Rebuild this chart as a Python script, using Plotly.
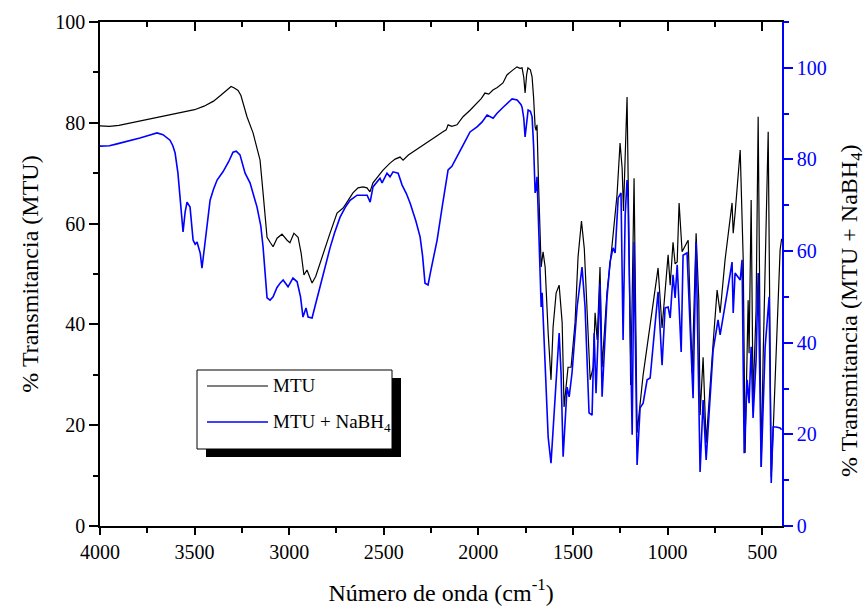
import plotly.graph_objects as go

# ---------------- data ----------------
wn_mtu = [4000, 3950, 3900, 3850, 3800, 3750, 3700, 3650, 3600, 3550, 3500, 3450, 3400, 3360, 3330,
          3307, 3290, 3270, 3255, 3240, 3223, 3191, 3170, 3154, 3138, 3117, 3101, 3085, 3064, 3038,
          3011, 2996, 2975, 2953, 2937, 2922, 2906, 2879, 2860, 2837, 2800, 2784, 2747, 2715, 2690,
          2663, 2636, 2610, 2589, 2573, 2557, 2530, 2504, 2467, 2440, 2414, 2398, 2370, 2324, 2290,
          2256, 2220, 2187, 2170, 2160, 2140, 2113, 2081, 2044, 2020, 2007, 1985, 1965, 1945, 1923,
          1900, 1870, 1849, 1820, 1796, 1780, 1769, 1760, 1753, 1745, 1738, 1725, 1716, 1708, 1700,
          1695, 1690, 1682, 1674, 1668, 1658, 1647, 1631, 1616, 1605, 1589, 1573, 1557, 1547, 1531,
          1526, 1510, 1489, 1473, 1455, 1440, 1425, 1409, 1393, 1383, 1372, 1357, 1346, 1320, 1293,
          1277, 1267, 1251, 1240, 1233, 1214, 1205, 1195, 1187, 1177, 1161, 1145, 1129, 1092, 1050,
          1029, 1013, 997, 986, 971, 960, 949, 939, 923, 897, 891, 870, 849, 835, 828,
          812, 796, 759, 738, 722, 696, 659, 653, 643, 616, 600, 590, 574, 569, 558,
          548, 532, 521, 505, 495, 468, 452, 442, 405, 397]
t_mtu = [79.4, 79.3, 79.5, 79.9, 80.3, 80.7, 81.1, 81.5, 81.9, 82.2, 82.6, 83.3, 84.3, 85.5, 86.5,
         87.2, 86.9, 86.4, 85.4, 83.5, 81.2, 78.0, 75.0, 72.6, 66.1, 57.3, 56.3, 55.4, 57.1, 57.9,
         56.7, 56.2, 58.1, 57.3, 54.2, 49.8, 50.8, 48.2, 49.5, 52.2, 56.2, 58.1, 62.1, 63.1, 64.5,
         66.1, 67.1, 67.3, 67.1, 66.3, 68.1, 69.3, 70.6, 72.0, 72.8, 73.2, 72.6, 73.6, 74.8, 75.7,
         76.6, 77.4, 78.2, 78.6, 79.6, 79.3, 79.6, 81.2, 82.5, 83.4, 84.1, 84.8, 85.9, 85.7, 86.5,
         87.0, 87.9, 89.5, 90.4, 91.1, 90.8, 90.9, 89.0, 85.9, 89.5, 90.9, 90.5, 89.1, 85.0, 79.2,
         78.5, 79.6, 68.0, 55.4, 51.4, 54.4, 51.4, 38.3, 29.0, 39.5, 46.2, 47.8, 40.3, 23.6, 30.4,
         31.5, 31.5, 40.3, 53.4, 60.5, 55.0, 43.5, 29.0, 31.5, 42.3, 36.9, 51.4, 31.5, 46.4, 55.8,
         62.3, 65.7, 76.0, 71.0, 62.5, 85.1, 60.0, 28.0, 45.0, 69.0, 18.5, 24.0, 30.0, 39.9, 51.2,
         39.3, 47.0, 53.8, 47.8, 56.3, 52.0, 52.4, 64.1, 54.4, 56.3, 56.7, 30.4, 58.1, 45.0, 22.0,
         33.5, 16.5, 36.3, 46.8, 42.3, 52.8, 64.1, 58.1, 62.0, 74.6, 52.8, 14.5, 44.8, 34.3, 64.7,
         25.0, 42.9, 81.2, 11.7, 32.9, 78.2, 9.7, 18.5, 54.8, 57.0]

wn_nabh4 = [4000, 3950, 3910, 3850, 3789, 3740, 3699, 3667, 3645, 3630, 3615, 3603, 3588, 3572, 3561,
            3550, 3540, 3524, 3508, 3497, 3487, 3470, 3461, 3445, 3430, 3418, 3400, 3381, 3350, 3320,
            3297, 3280, 3260, 3245, 3233, 3207, 3170, 3150, 3138, 3117, 3101, 3085, 3065, 3048, 3032,
            3006, 2980, 2958, 2940, 2927, 2911, 2900, 2879, 2860, 2837, 2810, 2784, 2760, 2731, 2700,
            2678, 2641, 2588, 2572, 2557, 2520, 2509, 2483, 2467, 2451, 2424, 2403, 2380, 2361, 2330,
            2308, 2295, 2282, 2266, 2250, 2218, 2190, 2160, 2140, 2113, 2080, 2044, 2007, 1980, 1954,
            1922, 1901, 1869, 1845, 1822, 1795, 1775, 1769, 1760, 1753, 1745, 1737, 1725, 1716, 1708,
            1700, 1695, 1690, 1685, 1679, 1668, 1663, 1647, 1631, 1616, 1605, 1584, 1573, 1563, 1552,
            1531, 1520, 1505, 1478, 1452, 1436, 1415, 1399, 1388, 1378, 1357, 1346, 1320, 1304, 1288,
            1277, 1261, 1246, 1235, 1224, 1214, 1209, 1187, 1177, 1161, 1145, 1129, 1108, 1092, 1050,
            1029, 1013, 997, 986, 971, 960, 949, 928, 918, 897, 865, 849, 828, 812, 796,
            759, 733, 722, 685, 659, 653, 643, 616, 606, 595, 579, 569, 558, 548, 532,
            521, 505, 484, 463, 452, 442, 426, 405, 397]
t_nabh4 = [82.9, 83.0, 83.4, 84.0, 84.7, 85.3, 85.8, 85.4, 84.8, 84.2, 83.0, 81.4, 77.0, 69.0, 64.2,
           68.5, 70.7, 69.6, 62.4, 61.5, 62.0, 59.5, 56.3, 61.8, 67.0, 71.1, 73.5, 75.5, 77.3, 79.5,
           81.6, 81.8, 81.0, 79.0, 77.0, 74.9, 69.6, 65.5, 60.9, 49.8, 49.3, 50.0, 52.0, 53.0, 53.7,
           52.2, 54.1, 53.3, 50.0, 45.6, 47.6, 45.6, 45.4, 48.5, 52.2, 57.0, 60.7, 64.0, 67.4, 69.8,
           71.1, 72.2, 72.2, 70.7, 74.0, 75.9, 74.9, 77.0, 76.2, 77.3, 77.0, 74.4, 72.5, 70.5, 66.5,
           63.1, 59.0, 53.0, 52.6, 56.0, 62.4, 70.0, 77.7, 78.5, 80.5, 83.2, 86.0, 87.1, 88.2, 89.7,
           89.0, 90.1, 91.4, 92.3, 93.2, 93.0, 92.0, 91.4, 89.0, 84.9, 88.0, 90.8, 90.5, 89.3, 83.0,
           72.7, 73.5, 76.2, 70.0, 62.4, 47.8, 50.9, 33.4, 19.4, 13.7, 21.0, 34.7, 42.1, 33.4, 15.1,
           30.3, 28.2, 33.4, 47.8, 56.5, 47.8, 24.7, 24.2, 42.1, 29.0, 53.0, 28.2, 49.8, 57.6, 60.7,
           59.6, 71.6, 72.7, 40.6, 67.9, 75.5, 71.6, 19.9, 62.0, 13.3, 25.8, 26.8, 31.9, 32.3, 51.1,
           35.1, 47.6, 47.8, 45.4, 54.8, 49.8, 57.0, 38.0, 59.1, 59.6, 27.9, 62.0, 11.8, 27.5, 14.4,
           38.4, 45.0, 41.7, 50.9, 57.6, 46.5, 55.2, 53.7, 58.1, 15.9, 31.9, 26.8, 39.1, 23.6, 36.2,
           55.2, 12.9, 39.1, 50.0, 9.4, 21.6, 21.6, 21.4, 21.0]

x_ticks = [4000, 3500, 3000, 2500, 2000, 1500, 1000, 500]
y_left_ticks = [0, 20, 40, 60, 80, 100]
y_right_ticks = [0, 20, 40, 60, 80, 100]
series_names = ["MTU", "MTU + NaBH<sub>4</sub>"]

# ---------------- figure ----------------
FONT = "Liberation Serif, Times New Roman, serif"
BLUE = "#0000FF"
XR = [4000, 395]

fig = go.Figure()
fig.add_trace(go.Scatter(x=wn_mtu, y=t_mtu, mode="lines", name=series_names[0],
                         line=dict(color="black", width=1.2), yaxis="y", showlegend=False))
fig.add_trace(go.Scatter(x=wn_nabh4, y=t_nabh4, mode="lines", name=series_names[1],
                         line=dict(color=BLUE, width=1.6), yaxis="y2", showlegend=False))
# empty trace to bind the top mirror axis
fig.add_trace(go.Scatter(x=[], y=[], xaxis="x2", yaxis="y", showlegend=False, hoverinfo="skip"))

tickfont = dict(family=FONT, size=20, color="black")
fig.update_layout(
    width=867, height=608,
    margin=dict(l=100, r=85, t=22, b=82),
    paper_bgcolor="white", plot_bgcolor="white",
    font=dict(family=FONT, color="black"),
    xaxis=dict(range=XR, tickvals=x_ticks, ticks="outside", ticklen=7, tickwidth=1.5,
               tickcolor="black", showline=True, linecolor="black", linewidth=1.5,
               showgrid=False, zeroline=False, tickfont=tickfont,
               minor=dict(dtick=250, tick0=0, ticks="outside", ticklen=5, tickwidth=1.5,
                          tickcolor="black", showgrid=False),
               title=dict(text="Número de onda (cm<sup>-1</sup>)",
                          font=dict(family=FONT, size=24, color="black"), standoff=22),
               automargin=False),
    xaxis2=dict(range=XR, overlaying="x", side="top", anchor="y", tickvals=x_ticks,
                ticks="inside", ticklen=9, tickwidth=1.5, tickcolor="black",
                showline=True, linecolor="black", linewidth=1.5, showticklabels=False,
                showgrid=False, zeroline=False,
                minor=dict(dtick=250, tick0=0, ticks="inside", ticklen=5, tickwidth=1.5,
                           tickcolor="black", showgrid=False),
                automargin=False),
    yaxis=dict(range=[0, 100], tickvals=y_left_ticks, ticks="outside", ticklen=9, tickwidth=1.5,
               tickcolor="black", showline=True, linecolor="black", linewidth=1.5,
               showgrid=False, zeroline=False, tickfont=tickfont,
               minor=dict(dtick=10, tick0=0, ticks="outside", ticklen=5, tickwidth=1.5,
                          tickcolor="black", showgrid=False),
               title=dict(text="% Transmitancia (MTU)",
                          font=dict(family=FONT, size=24, color="black"), standoff=10),
               automargin=False),
    yaxis2=dict(range=[0, 110], overlaying="y", side="right", anchor="x", tickvals=y_right_ticks,
                ticks="outside", ticklen=9, tickwidth=1.5, tickcolor=BLUE,
                showline=True, linecolor=BLUE, linewidth=1.5,
                showgrid=False, zeroline=False,
                tickfont=dict(family=FONT, size=20, color=BLUE),
                minor=dict(dtick=10, tick0=0, ticks="outside", ticklen=5, tickwidth=1.5,
                           tickcolor=BLUE, showgrid=False),
                automargin=False),
)

# ---------------- custom legend (box with drop shadow) ----------------
def px2paper_x(px):
    return (px - 100) / 682.0

def px2paper_y(py):
    return (526 - py) / 504.0

shapes = [
    dict(type="rect", xref="paper", yref="paper",
         x0=px2paper_x(206), x1=px2paper_x(401), y0=px2paper_y(457), y1=px2paper_y(378),
         fillcolor="black", line=dict(width=0), layer="above"),
    dict(type="rect", xref="paper", yref="paper",
         x0=px2paper_x(197), x1=px2paper_x(392), y0=px2paper_y(449), y1=px2paper_y(370),
         fillcolor="white", line=dict(color="black", width=1), layer="above"),
    dict(type="line", xref="paper", yref="paper",
         x0=px2paper_x(207), x1=px2paper_x(268), y0=px2paper_y(386), y1=px2paper_y(386),
         line=dict(color="black", width=1.2), layer="above"),
    dict(type="line", xref="paper", yref="paper",
         x0=px2paper_x(207), x1=px2paper_x(268), y0=px2paper_y(422), y1=px2paper_y(422),
         line=dict(color=BLUE, width=1.6), layer="above"),
]
fig.update_layout(shapes=shapes)
fig.add_annotation(x=px2paper_x(271), y=px2paper_y(385), xref="paper", yref="paper",
                   text=series_names[0], showarrow=False, xanchor="left", yanchor="middle",
                   font=dict(family=FONT, size=19, color="black"))
fig.add_annotation(x=px2paper_x(271), y=px2paper_y(423), xref="paper", yref="paper",
                   text=series_names[1], showarrow=False, xanchor="left", yanchor="middle",
                   font=dict(family=FONT, size=19, color="black"))
# right axis title (placed to match the reference position)
fig.add_annotation(x=px2paper_x(851), y=px2paper_y(310), xref="paper", yref="paper",
                   text="% Transmitancia (MTU + NaBH<sub>4</sub>)", textangle=-90,
                   showarrow=False, xanchor="center", yanchor="middle",
                   font=dict(family=FONT, size=24, color="black"))

fig.write_html("out.html")
